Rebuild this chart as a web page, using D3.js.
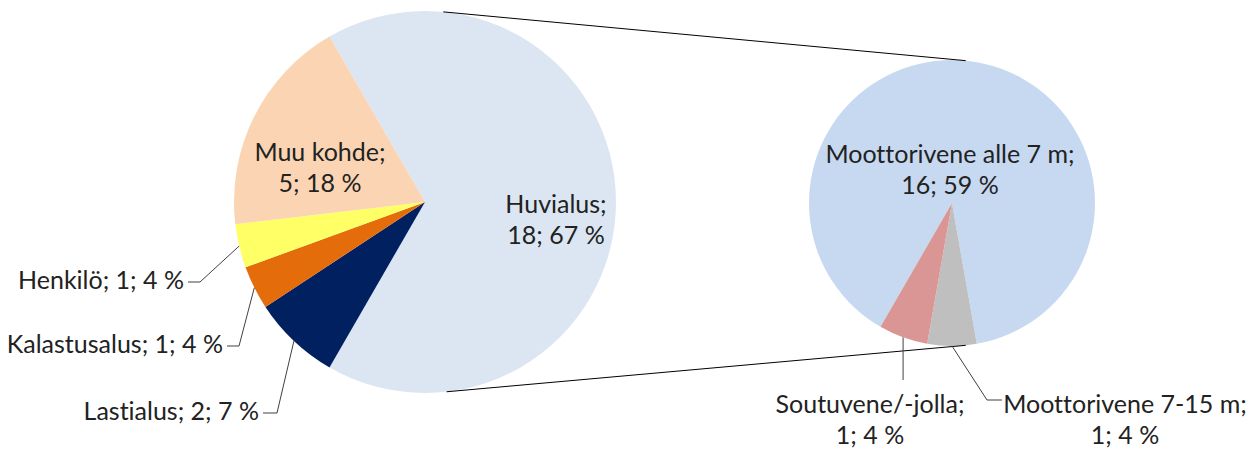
<!DOCTYPE html>
<html>
<head>
<meta charset="utf-8">
<script src="https://cdn.jsdelivr.net/npm/d3@7"></script>
<style>
  html, body { margin: 0; padding: 0; background: #fff; }
  svg text { font-family: Lato, "Open Sans", sans-serif; fill: #222; font-variant-ligatures: none; }
</style>
</head>
<body>
<svg id="chart" width="1255" height="451"></svg>
<script>
// Main pie (all cases)
const mainLabels = ['Huvialus', 'Lastialus', 'Kalastusalus', 'Henkilö', 'Muu kohde'];
const mainValues = [18, 2, 1, 1, 5];
const mainPct = [67, 7, 4, 4, 18];
const mainColors = ['#dce6f2', '#002060', '#e46c0a', '#ffff66', '#fbd4b4'];

// Secondary pie (breakdown of Huvialus)
const subLabels = ['Moottorivene alle 7 m', 'Moottorivene 7-15 m', 'Soutuvene/-jolla'];
const subValues = [16, 1, 1];
const subPct = [59, 4, 4];
const subColors = ['#c6d9f1', '#bfbfbf', '#d99694'];

const svg = d3.select('#chart');
const FS = 25;
const rad = d => d * Math.PI / 180;

// geometry
const main = { cx: 425, cy: 202, r: 191, start: -30 };
const sub = { cx: 952, cy: 203, r: 143, start: 210 };

function polar(p, angDeg, r) {
    return [p.cx + r * Math.sin(rad(angDeg)), p.cy - r * Math.cos(rad(angDeg))];
}

function drawPie(p, values, colors) {
    const pie = d3.pie().sort(null).value(d => d)
        .startAngle(rad(p.start)).endAngle(rad(p.start + 360));
    const arcs = pie(values);
    const arc = d3.arc().innerRadius(0).outerRadius(p.r);
    svg.append('g')
        .attr('transform', `translate(${p.cx},${p.cy})`)
        .selectAll('path')
        .data(arcs)
        .enter().append('path')
        .attr('d', arc)
        .attr('fill', (d, i) => colors[i]);
    return arcs;
}

const mainArcs = drawPie(main, mainValues, mainColors);
const subArcs = drawPie(sub, subValues, subColors);

// connector lines between the pies
[[5.5, 5.5], [173.5, 174.5]].forEach(([a1, a2]) => {
    const p1 = polar(main, a1, main.r);
    const p2 = polar(sub, a2, sub.r);
    svg.append('line')
        .attr('x1', p1[0]).attr('y1', p1[1])
        .attr('x2', p2[0]).attr('y2', p2[1])
        .attr('stroke', '#000').attr('stroke-width', 1);
});

function textBlock(lines, x, y, anchor) {
    const t = svg.append('text')
        .attr('x', x).attr('y', y)
        .attr('text-anchor', anchor)
        .attr('font-size', FS);
    lines.forEach((l, i) => {
        t.append('tspan').attr('x', x).attr('dy', i === 0 ? 0 : 31).text(l);
    });
}

const midDeg = d => (d.startAngle + d.endAngle) / 2 * 180 / Math.PI;

// inside labels
textBlock([mainLabels[0] + ';', `${mainValues[0]}; ${mainPct[0]} %`], 556, 213, 'middle');
textBlock([mainLabels[4] + ';', `${mainValues[4]}; ${mainPct[4]} %`], 320, 161, 'middle');
textBlock([subLabels[0] + ';', `${subValues[0]}; ${subPct[0]} %`], 950, 163, 'middle');

// outside labels with leader lines
const leaderColor = '#404040';
function leader(p, d, elbow, end) {
    const s = polar(p, midDeg(d), p.r);
    svg.append('path')
        .attr('d', d3.line()([s, elbow, end]))
        .attr('fill', 'none')
        .attr('stroke', leaderColor)
        .attr('stroke-width', 1);
}

// Lastialus, Kalastusalus, Henkilö: [index, elbowX, elbowY, endX]
[[1, 277, 413, 263], [2, 239, 346, 227], [3, 200, 282, 188]].forEach(([i, ex, ey, tx]) => {
    leader(main, mainArcs[i], [ex, ey], [tx, ey]);
    svg.append('text')
        .attr('x', tx - 4).attr('y', ey + 7)
        .attr('text-anchor', 'end')
        .attr('font-size', FS)
        .text(`${mainLabels[i]}; ${mainValues[i]}; ${mainPct[i]} %`);
});

// Soutuvene/-jolla
{
    const s = polar(sub, midDeg(subArcs[2]), sub.r);
    leader(sub, subArcs[2], [s[0], 380], [s[0], 380]);
    textBlock([subLabels[2] + ';', `${subValues[2]}; ${subPct[2]} %`], 870, 413, 'middle');
}
// Moottorivene 7-15 m
{
    leader(sub, subArcs[1], [987, 400], [1002, 400]);
    textBlock([subLabels[1] + ';', `${subValues[1]}; ${subPct[1]} %`], 1125, 413, 'middle');
}
</script>
</body>
</html>
